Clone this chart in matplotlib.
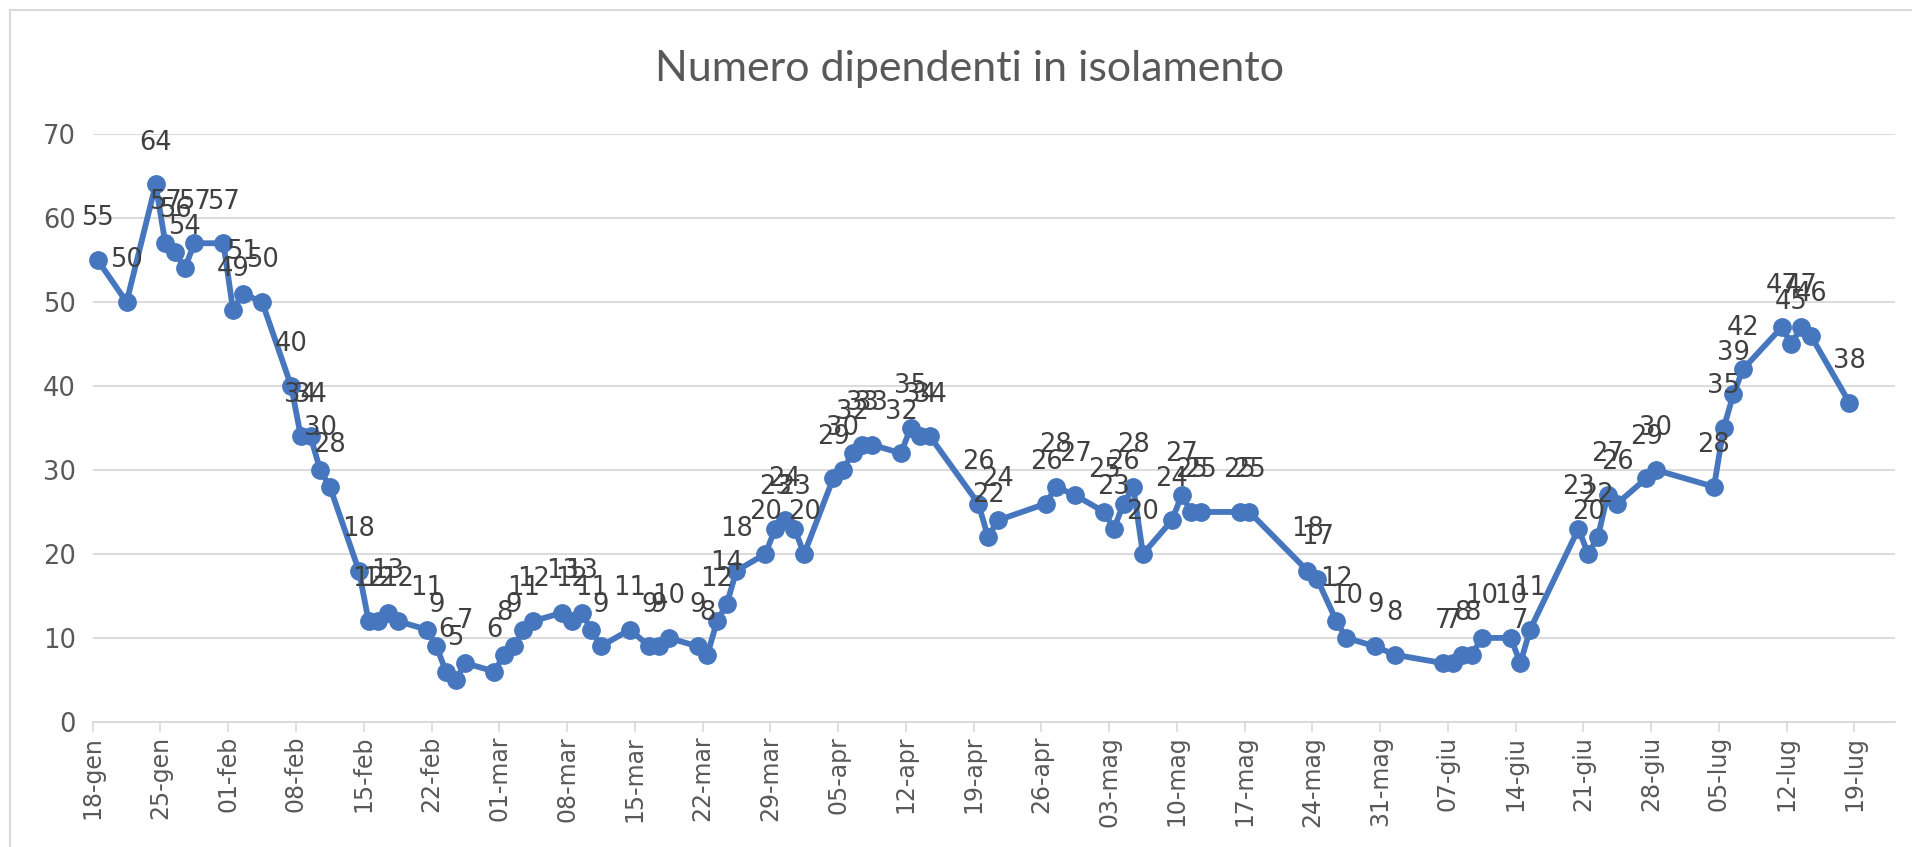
import matplotlib
matplotlib.use("Agg")
import matplotlib.pyplot as plt
import pandas as pd
from matplotlib.lines import Line2D

title = "Numero dipendenti in isolamento"

dates = [
    "2021-01-18", "2021-01-21", "2021-01-24", "2021-01-25", "2021-01-26", "2021-01-27",
    "2021-01-28", "2021-01-31", "2021-02-01", "2021-02-02", "2021-02-04", "2021-02-07",
    "2021-02-08", "2021-02-09", "2021-02-10", "2021-02-11", "2021-02-14", "2021-02-15",
    "2021-02-16", "2021-02-17", "2021-02-18", "2021-02-21", "2021-02-22", "2021-02-23",
    "2021-02-24", "2021-02-25", "2021-02-28", "2021-03-01", "2021-03-02", "2021-03-03",
    "2021-03-04", "2021-03-07", "2021-03-08", "2021-03-09", "2021-03-10", "2021-03-11",
    "2021-03-14", "2021-03-16", "2021-03-17", "2021-03-18", "2021-03-21", "2021-03-22",
    "2021-03-23", "2021-03-24", "2021-03-25", "2021-03-28", "2021-03-29", "2021-03-30",
    "2021-03-31", "2021-04-01", "2021-04-04", "2021-04-05", "2021-04-06", "2021-04-07",
    "2021-04-08", "2021-04-11", "2021-04-12", "2021-04-13", "2021-04-14", "2021-04-19",
    "2021-04-20", "2021-04-21", "2021-04-26", "2021-04-27", "2021-04-29", "2021-05-02",
    "2021-05-03", "2021-05-04", "2021-05-05", "2021-05-06", "2021-05-09", "2021-05-10",
    "2021-05-11", "2021-05-12", "2021-05-16", "2021-05-17", "2021-05-23", "2021-05-24",
    "2021-05-26", "2021-05-27", "2021-05-30", "2021-06-01", "2021-06-06", "2021-06-07",
    "2021-06-08", "2021-06-09", "2021-06-10", "2021-06-13", "2021-06-14", "2021-06-15",
    "2021-06-20", "2021-06-21", "2021-06-22", "2021-06-23", "2021-06-24", "2021-06-27",
    "2021-06-28", "2021-07-04", "2021-07-05", "2021-07-06", "2021-07-07", "2021-07-11",
    "2021-07-12", "2021-07-13", "2021-07-14", "2021-07-18",
]

isolated = [
    55, 50, 64, 57, 56, 54,
    57, 57, 49, 51, 50, 40,
    34, 34, 30, 28, 18, 12,
    12, 13, 12, 11, 9, 6,
    5, 7, 6, 8, 9, 11,
    12, 13, 12, 13, 11, 9,
    11, 9, 9, 10, 9, 8,
    12, 14, 18, 20, 23, 24,
    23, 20, 29, 30, 32, 33,
    33, 32, 35, 34, 34, 26,
    22, 24, 26, 28, 27, 25,
    23, 26, 28, 20, 24, 27,
    25, 25, 25, 25, 18, 17,
    12, 10, 9, 8, 7, 7,
    8, 8, 10, 10, 7, 11,
    23, 20, 22, 27, 26, 29,
    30, 28, 35, 39, 42, 47,
    45, 47, 46, 38,
]

axis_start = "2021-01-18"
axis_last_tick = "2021-07-19"
mesi = ["gen", "feb", "mar", "apr", "mag", "giu", "lug", "ago", "set", "ott", "nov", "dic"]
y_ticks = [0, 10, 20, 30, 40, 50, 60, 70]

BLUE = "#4677BE"
GRID = "#D9D9D9"
AXIS_TXT = "#595959"
LABEL_TXT = "#404040"

fig = plt.figure(figsize=(19.12, 8.47), dpi=100)
fig.patch.set_facecolor("white")

# light chart-area frame (left and top edges)
fig.add_artist(Line2D([10 / 1912, 10 / 1912], [0, 1 - 10 / 847], color=GRID, lw=1.5))
fig.add_artist(Line2D([10 / 1912, 1], [1 - 10 / 847, 1 - 10 / 847], color=GRID, lw=1.5))

ax = fig.add_axes([0.0485, 0.1477, 0.9426, 0.6940])

# each day occupies one slot; points sit in the middle of their slot
x = pd.to_datetime(dates) + pd.Timedelta(hours=12)
ax.plot(x, isolated, color=BLUE, lw=4.2, marker="o", ms=12.5,
        solid_joinstyle="round", solid_capstyle="round", zorder=3, clip_on=False)

for xi, v in zip(x, isolated):
    ax.annotate(str(v), (xi, v), xytext=(0, 30), textcoords="offset points",
                ha="center", va="center", fontsize=18.5, color=LABEL_TXT,
                family="DejaVu Sans", annotation_clip=False, zorder=4)

start = pd.Timestamp(axis_start)
ticks = pd.date_range(axis_start, axis_last_tick, freq="7D")
ax.set_xticks(ticks)
ax.set_xticklabels([f"{t.day:02d}-{mesi[t.month - 1]}" for t in ticks],
                   rotation=90, fontsize=17, color=AXIS_TXT, family="DejaVu Sans")
ax.set_xlim(start, start + pd.Timedelta(days=186.2))

ax.set_ylim(0, 70)
ax.set_yticks(y_ticks)
ax.set_yticklabels([str(t) for t in y_ticks], fontsize=18.5, color=AXIS_TXT, family="DejaVu Sans")

ax.tick_params(axis="x", length=7, width=1.2, color=GRID, pad=3, direction="out")
ax.tick_params(axis="y", length=0, pad=12)

ax.grid(axis="y", color=GRID, lw=1.3, zorder=0)
ax.set_axisbelow(True)
for side in ("top", "right", "left"):
    ax.spines[side].set_visible(False)
ax.spines["bottom"].set_color(GRID)
ax.spines["bottom"].set_linewidth(1.3)

fig.text(0.507, 0.918, title, ha="center", va="center", fontsize=31,
         color=AXIS_TXT, family="Lato")

fig.savefig("out.png", dpi=100, facecolor="white")
